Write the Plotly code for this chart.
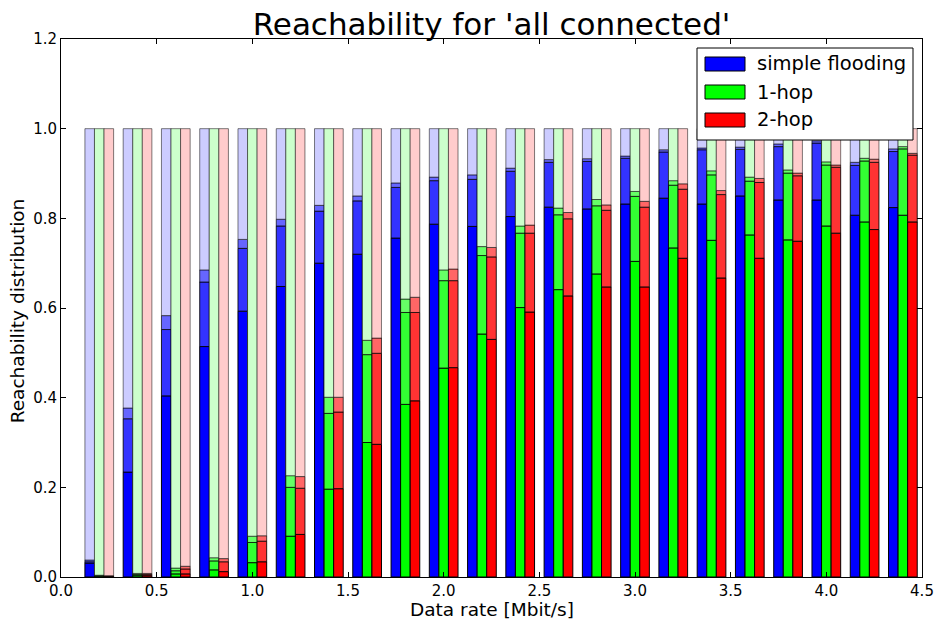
import plotly.graph_objects as go

rates = [0.2, 0.4, 0.6, 0.8, 1.0, 1.2, 1.4, 1.6, 1.8, 2.0, 2.2, 2.4, 2.6, 2.8, 3.0,
         3.2, 3.4, 3.6, 3.8, 4.0, 4.2, 4.4]

blue_solid = [0.031, 0.234, 0.404, 0.514, 0.593, 0.648, 0.700, 0.720, 0.756, 0.787, 0.782,
              0.804, 0.825, 0.821, 0.832, 0.845, 0.832, 0.850, 0.841, 0.841, 0.807, 0.824]
blue_mid = [0.034, 0.353, 0.552, 0.658, 0.733, 0.783, 0.816, 0.839, 0.869, 0.884, 0.887,
            0.905, 0.925, 0.927, 0.934, 0.948, 0.953, 0.954, 0.960, 0.968, 0.918, 0.949]
blue_top = [0.038, 0.377, 0.583, 0.685, 0.753, 0.798, 0.829, 0.850, 0.879, 0.892, 0.897,
            0.912, 0.931, 0.933, 0.939, 0.953, 0.957, 0.959, 0.966, 0.973, 0.925, 0.955]

green_solid = [0.002, 0.003, 0.007, 0.016, 0.032, 0.091, 0.196, 0.300, 0.385, 0.466, 0.542,
               0.601, 0.641, 0.676, 0.704, 0.734, 0.751, 0.763, 0.752, 0.783, 0.792, 0.807]
green_mid = [0.003, 0.006, 0.014, 0.036, 0.077, 0.200, 0.365, 0.496, 0.590, 0.661, 0.717,
             0.767, 0.808, 0.828, 0.849, 0.874, 0.897, 0.883, 0.901, 0.919, 0.928, 0.955]
green_top = [0.004, 0.008, 0.020, 0.043, 0.091, 0.226, 0.401, 0.528, 0.620, 0.685, 0.737,
             0.783, 0.823, 0.842, 0.860, 0.884, 0.906, 0.892, 0.908, 0.926, 0.934, 0.960]

red_solid = [0.001, 0.003, 0.007, 0.012, 0.034, 0.095, 0.197, 0.296, 0.393, 0.467, 0.530,
             0.591, 0.627, 0.647, 0.647, 0.711, 0.667, 0.711, 0.749, 0.767, 0.775, 0.792]
red_mid = [0.002, 0.006, 0.018, 0.034, 0.080, 0.198, 0.368, 0.499, 0.590, 0.661, 0.714,
           0.767, 0.799, 0.818, 0.825, 0.865, 0.853, 0.880, 0.895, 0.914, 0.925, 0.941]
red_top = [0.003, 0.008, 0.024, 0.041, 0.092, 0.224, 0.401, 0.533, 0.624, 0.687, 0.735,
           0.785, 0.813, 0.830, 0.838, 0.877, 0.862, 0.889, 0.901, 0.919, 0.932, 0.945]

series_names = ["simple flooding", "1-hop", "2-hop"]
series_levels = [
    [blue_solid, blue_mid, blue_top],
    [green_solid, green_mid, green_top],
    [red_solid, red_mid, red_top],
]
series_colors = [
    ["#0000ff", "#3333ff", "#6666ff", "#ccccff"],
    ["#00ff00", "#33ff33", "#66ff66", "#ccffcc"],
    ["#ff0000", "#ff3333", "#ff6666", "#ffcccc"],
]
edge_colors = ["rgba(0,0,0,1)", "rgba(0,0,0,0.85)", "rgba(0,0,0,0.7)", "rgba(0,0,0,0.5)"]
offsets = [-0.05, 0.0, 0.05]
bar_width = 0.05

fig = go.Figure()
for s in range(3):
    xs = [r + offsets[s] for r in rates]
    levels = series_levels[s] + [[1.0] * len(rates)]
    prev = [0.0] * len(rates)
    for k, lev in enumerate(levels):
        fig.add_trace(go.Bar(
            x=xs, y=[a - b for a, b in zip(lev, prev)], base=prev,
            width=bar_width, marker=dict(color=series_colors[s][k],
                                         line=dict(color=edge_colors[k], width=1)),
            showlegend=False, hoverinfo="skip",
        ))
        prev = lev

font = "DejaVu Sans"
fig.update_layout(
    width=938, height=619, barmode="overlay",
    margin=dict(l=61, r=16, t=39, b=42, autoexpand=False),
    plot_bgcolor="white", paper_bgcolor="white",
    font=dict(family=font, size=15, color="black"),
    title=dict(text="Reachability for 'all connected'", x=0.524, xanchor="center",
               y=1 - 24 / 619, yanchor="middle", font=dict(size=31, family=font)),
)
axis_common = dict(showline=True, linecolor="black", linewidth=1, mirror="ticks",
                   ticks="inside", ticklen=5, tickcolor="black", showgrid=False,
                   zeroline=False, tickformat=".1f", tickfont=dict(size=15, family=font),
                   automargin=False)
fig.update_xaxes(range=[0, 4.5], dtick=0.5, tick0=0, **axis_common)
fig.update_yaxes(range=[0, 1.2], dtick=0.2, tick0=0, **axis_common)

fig.add_annotation(text="Data rate [Mbit/s]", xref="paper", yref="paper", x=0.5, y=-0.061,
                   yanchor="middle", showarrow=False, font=dict(size=18.5, family=font))
fig.add_annotation(text="Reachability distribution", xref="paper", yref="paper", x=-0.051,
                   y=0.494, textangle=-90, xanchor="center", yanchor="middle",
                   showarrow=False, font=dict(size=18.5, family=font))

# legend box (manual, matplotlib style)
def px_x(p):
    return (p - 61) / 861

def px_y(p):
    return (577 - p) / 538

fig.add_shape(type="rect", xref="paper", yref="paper", x0=px_x(697), x1=px_x(913),
              y0=px_y(140), y1=px_y(48), fillcolor="white", line=dict(color="black", width=1))
for i, name in enumerate(series_names):
    cy = 64 + 28 * i
    fig.add_shape(type="rect", xref="paper", yref="paper", x0=px_x(705), x1=px_x(745),
                  y0=px_y(cy + 7), y1=px_y(cy - 7), fillcolor=series_colors[i][0],
                  line=dict(color="black", width=1))
    fig.add_annotation(text=name, xref="paper", yref="paper", x=px_x(755), y=px_y(cy),
                       xanchor="left", yanchor="middle", showarrow=False,
                       font=dict(size=19.5, family=font))

fig.write_html("out.html", config={"displayModeBar": False},
               post_script="document.body.style.margin='0';")
